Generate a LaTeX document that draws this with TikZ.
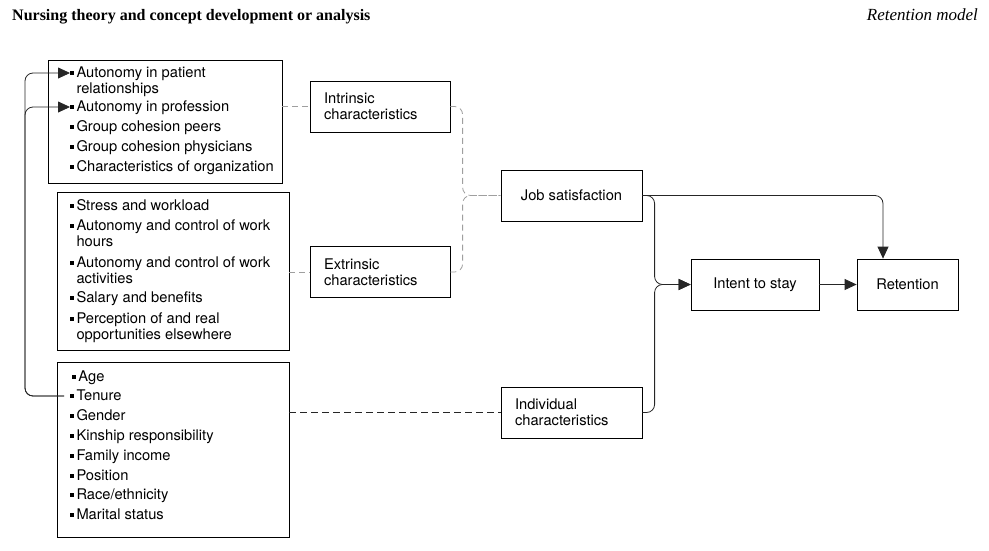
\documentclass[tikz,border=0pt]{standalone}
\usepackage{fontspec}
\setmainfont{TeX Gyre Heros}
\newfontfamily\headfont{Liberation Serif}
\usetikzlibrary{arrows.meta,positioning,calc}

% square bullet, wrapped lines kept in a column
\newcommand{\bul}[1]{\raisebox{2.4pt}{\rule{3.3pt}{3.3pt}}\hspace{3pt}\begin{tabular}[t]{@{}l@{}}#1\end{tabular}}

\begin{document}
\begin{tikzpicture}[
    x=1pt, y=-1pt,
    every node/.style={font=\fontsize{14.7}{16}\selectfont},
    box/.style={rectangle, draw=black, line width=0.8pt, inner sep=0pt},
    item/.style={anchor=base west, inner sep=0pt},
    line/.style={draw=black!85, line width=0.8pt, rounded corners=8pt},
    arr/.style={line, -{Triangle[length=12pt,width=11pt]}},
    gdash/.style={line, draw=gray!75, dash pattern=on 6pt off 4pt},
    kdash/.style={line, dash pattern=on 7pt off 4pt}
  ]
  \useasboundingbox (0,0) rectangle (989,550);

  % running heads
  \node[anchor=base west, inner sep=0pt, font=\headfont\bfseries\fontsize{16}{18}\selectfont] (title) at (12,20) {Nursing theory and concept development or analysis};
  \node[anchor=base east, inner sep=0pt, font=\headfont\itshape\fontsize{17}{19}\selectfont] (runhead) at (978,20) {Retention model};

  % list boxes
  \node[box, minimum width=234pt, minimum height=123pt] (intrlist) at (165,121.5) {};
  \node[box, minimum width=232pt, minimum height=158pt] (extrlist) at (173,271) {};
  \node[box, minimum width=232pt, minimum height=175pt] (indivlist) at (173,449.5) {};

  % intrinsic items
  \node[item] (autopat) at (70,77) {\bul{Autonomy in patient\\relationships}};
  \node[item] (autoprof) at (70,111) {\bul{Autonomy in profession}};
  \node[item] (peers) at (70,131) {\bul{Group cohesion peers}};
  \node[item] (phys) at (70,151) {\bul{Group cohesion physicians}};
  \node[item] (org) at (70,171) {\bul{Characteristics of organization}};

  % extrinsic items
  \node[item] (stress) at (70,210) {\bul{Stress and workload}};
  \node[item] (hours) at (70,230) {\bul{Autonomy and control of work\\hours}};
  \node[item] (activ) at (70,267) {\bul{Autonomy and control of work\\activities}};
  \node[item] (salary) at (70,302) {\bul{Salary and benefits}};
  \node[item] (elsewhere) at (70,323) {\bul{Perception of and real\\opportunities elsewhere}};

  % individual items
  \node[item] (age) at (72,381) {\bul{Age}};
  \node[item] (tenure) at (70,400) {\bul{Tenure}};
  \node[item] (gender) at (70,420) {\bul{Gender}};
  \node[item] (kinship) at (70,440) {\bul{Kinship responsibility}};
  \node[item] (income) at (70,460) {\bul{Family income}};
  \node[item] (position) at (70,480) {\bul{Position}};
  \node[item] (race) at (70,499) {\bul{Race/ethnicity}};
  \node[item] (marital) at (70,519) {\bul{Marital status}};

  % characteristic boxes
  \node[box, minimum width=140pt, minimum height=51pt, text width=112pt, align=left] (intr) at (380,106.5) {Intrinsic\\characteristics};
  \node[box, minimum width=140pt, minimum height=51pt, text width=112pt, align=left] (extr) at (380,272) {Extrinsic\\characteristics};
  \node[box, minimum width=141pt, minimum height=51pt, text width=113pt, align=left] (indiv) at (571.5,412.5) {Individual\\characteristics};

  % outcome boxes
  \node[box, minimum width=141pt, minimum height=51pt, align=center] (job) at (571.5,195.5) {Job satisfaction};
  \node[box, minimum width=128pt, minimum height=51pt, align=center] (intent) at (755,284.5) {Intent to stay};
  \node[box, minimum width=101pt, minimum height=51pt, align=center] (ret) at (907.5,284.5) {Retention};

  \coordinate (loop) at (25,250);
  \coordinate (jn1) at ($(job.west)+(-38,0)$);
  \coordinate (jn2) at ($(intent.west)+(-36,0)$);

  % feedback from tenure
  \draw[arr] ([xshift=-6pt,yshift=4pt]tenure.base west) -| (loop) |- ([yshift=4pt]autopat.base west);
  \draw[arr] ([xshift=-6pt,yshift=4pt]tenure.base west) -| (loop) |- ([yshift=4pt]autoprof.base west);

  \draw[gdash] (intr.west -| intrlist.east) -- (intr.west);
  \draw[gdash] (extr.west -| extrlist.east) -- (extr.west);
  \draw[kdash] (indiv.west -| indivlist.east) -- (indiv.west);

  \draw[gdash] (intr.east) -| (jn1) -- (job.west);
  \draw[gdash] (extr.east) -| (jn1) -- (job.west);

  \draw[arr] (job.east) -| (jn2) -- (intent.west);
  \draw[arr] (indiv.east) -| (jn2) -- (intent.west);
  \draw[arr] (job.east) -| ([xshift=-24.5pt]ret.north);
  \draw[arr] (intent.east) -- (ret.west);

\end{tikzpicture}
\end{document}
